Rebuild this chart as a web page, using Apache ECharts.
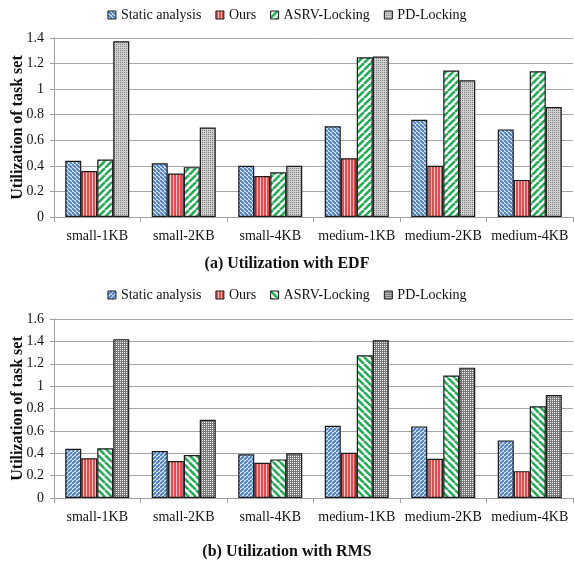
<!DOCTYPE html>
<html><head><meta charset="utf-8">
<script src="https://cdn.jsdelivr.net/npm/echarts@6/dist/echarts.min.js"></script>
<style>html,body{margin:0;padding:0;background:#fff}#c{width:574px;height:564px}</style>
</head><body><div id="c"></div>
<script>
const categories = ['small-1KB','small-2KB','small-4KB','medium-1KB','medium-2KB','medium-4KB'];
const seriesNames = ['Static analysis','Ours','ASRV-Locking','PD-Locking'];
const yTicksEDF = [0,0.2,0.4,0.6,0.8,1,1.2,1.4];
const yTicksRMS = [0,0.2,0.4,0.6,0.8,1,1.2,1.4,1.6];
const edfStatic = [0.44,0.42,0.40,0.71,0.76,0.685];
const edfOurs   = [0.36,0.34,0.32,0.46,0.40,0.29];
const edfASRV   = [0.45,0.39,0.35,1.25,1.145,1.14];
const edfPD     = [1.375,0.70,0.40,1.255,1.07,0.86];
const rmsStatic = [0.44,0.42,0.39,0.645,0.64,0.515];
const rmsOurs   = [0.355,0.33,0.315,0.405,0.35,0.24];
const rmsASRV   = [0.445,0.385,0.345,1.275,1.095,0.82];
const rmsPD     = [1.42,0.70,0.40,1.41,1.165,0.92];
const captions = ['(a) Utilization with EDF','(b) Utilization with RMS'];
const yName = 'Utilization of task set';

const FONT = "'Liberation Serif','Times New Roman',serif";

function canvas(n){const c=document.createElement('canvas');c.width=n;c.height=n;return c;}
function diag(fg,bg,size,lw,dir){
  const c=canvas(size),g=c.getContext('2d');
  g.fillStyle=bg;g.fillRect(0,0,size,size);
  g.strokeStyle=fg;g.lineWidth=lw;
  for(const k of [-size,0,size]){
    g.beginPath();
    if(dir==='/'){g.moveTo(k,size);g.lineTo(k+size,0);}
    else {g.moveTo(k,0);g.lineTo(k+size,size);}
    g.stroke();
  }
  return {image:c,repeat:'repeat'};
}
function vstripes(fg,bg){
  const c=document.createElement('canvas');c.width=3;c.height=3;
  const g=c.getContext('2d');g.fillStyle=fg;g.fillRect(0,0,3,3);g.fillStyle=bg;g.fillRect(2,0,1,3);
  return {image:c,repeat:'repeat'};
}
function dots(bg,fg){
  const c=canvas(4),g=c.getContext('2d');
  g.fillStyle=bg;g.fillRect(0,0,4,4);g.fillStyle=fg;
  g.fillRect(0,0,1,1);g.fillRect(2,2,1,1);g.fillRect(2,0,1,1);g.fillRect(0,2,1,1);
  return {image:c,repeat:'repeat'};
}
const patEDF = [
  diag('#4f83c8','#ffffff',4,2.1,'\\'),
  vstripes('#ec4a4a','#fbcaca'),
  diag('#1fae55','#ffffff',7,2.6,'/'),
  dots('#cfcfcf','#808080')
];
const patRMS = [
  diag('#4f83c8','#ffffff',4,2.1,'/'),
  vstripes('#ec4a4a','#fbcaca'),
  diag('#1fae55','#ffffff',7,2.6,'\\'),
  dots('#7a7a7a','#f2f2f2')
];
const border = '#1a1a1a';

function bars(gi,vals,pats){
  return vals.map((v,i)=>({
    name:seriesNames[i],type:'bar',xAxisIndex:gi,yAxisIndex:gi,
    data:v,barGap:'0%',barCategoryGap:'26%',
    itemStyle:{color:pats[i],borderColor:border,borderWidth:1.2},
    emphasis:{disabled:true},animation:false
  }));
}
function legend(top,pats){
  return {top:top,left:'center',itemWidth:8,itemHeight:8,itemGap:14,
    textStyle:{fontFamily:FONT,fontSize:14,color:'#111'},
    selectedMode:false,
    data:seriesNames.map((n,i)=>({name:n,icon:'rect',itemStyle:{color:pats[i],borderColor:border,borderWidth:1}}))};
}
function xAx(gi){
  return {type:'category',gridIndex:gi,data:categories,
    axisLine:{lineStyle:{color:'#a0a0a0',width:1}},
    axisTick:{show:true,length:5,lineStyle:{color:'#a0a0a0'}},
    axisLabel:{fontFamily:FONT,fontSize:14,color:'#111',margin:12,interval:0}};
}
function yAx(gi,ticks){
  return {type:'value',gridIndex:gi,min:ticks[0],max:ticks[ticks.length-1],interval:0.2,
    name:yName,nameLocation:'middle',nameRotate:90,nameGap:28,nameMoveOverlap:false,
    nameTextStyle:{fontFamily:FONT,fontSize:16,fontWeight:'bold',color:'#111'},
    axisLine:{show:true,lineStyle:{color:'#a0a0a0'}},
    axisTick:{show:true,length:4,lineStyle:{color:'#a0a0a0'}},
    splitLine:{lineStyle:{color:'#a6a6a6',width:1}},
    axisLabel:{fontFamily:FONT,fontSize:14,color:'#111',margin:10,
      formatter:v=>String(Math.round(v*10)/10)}};
}
const chart = echarts.init(document.getElementById('c'),null,{renderer:'canvas'});
chart.setOption({
  animation:false,
  title:[
    {text:captions[0],left:'center',top:251,textStyle:{fontFamily:FONT,fontSize:16,fontWeight:'bold',color:'#111'}},
    {text:captions[1],left:'center',top:539,textStyle:{fontFamily:FONT,fontSize:16,fontWeight:'bold',color:'#111'}}
  ],
  legend:[legend(3,patEDF),legend(283,patRMS)],
  grid:[
    {left:54,right:1,top:38,height:179,containLabel:false,outerBoundsMode:'none'},
    {left:54,right:1,top:319,height:179,containLabel:false,outerBoundsMode:'none'}
  ],
  xAxis:[xAx(0),xAx(1)],
  yAxis:[yAx(0,yTicksEDF),yAx(1,yTicksRMS)],
  series:[
    ...bars(0,[edfStatic,edfOurs,edfASRV,edfPD],patEDF),
    ...bars(1,[rmsStatic,rmsOurs,rmsASRV,rmsPD],patRMS)
  ]
});
</script></body></html>
